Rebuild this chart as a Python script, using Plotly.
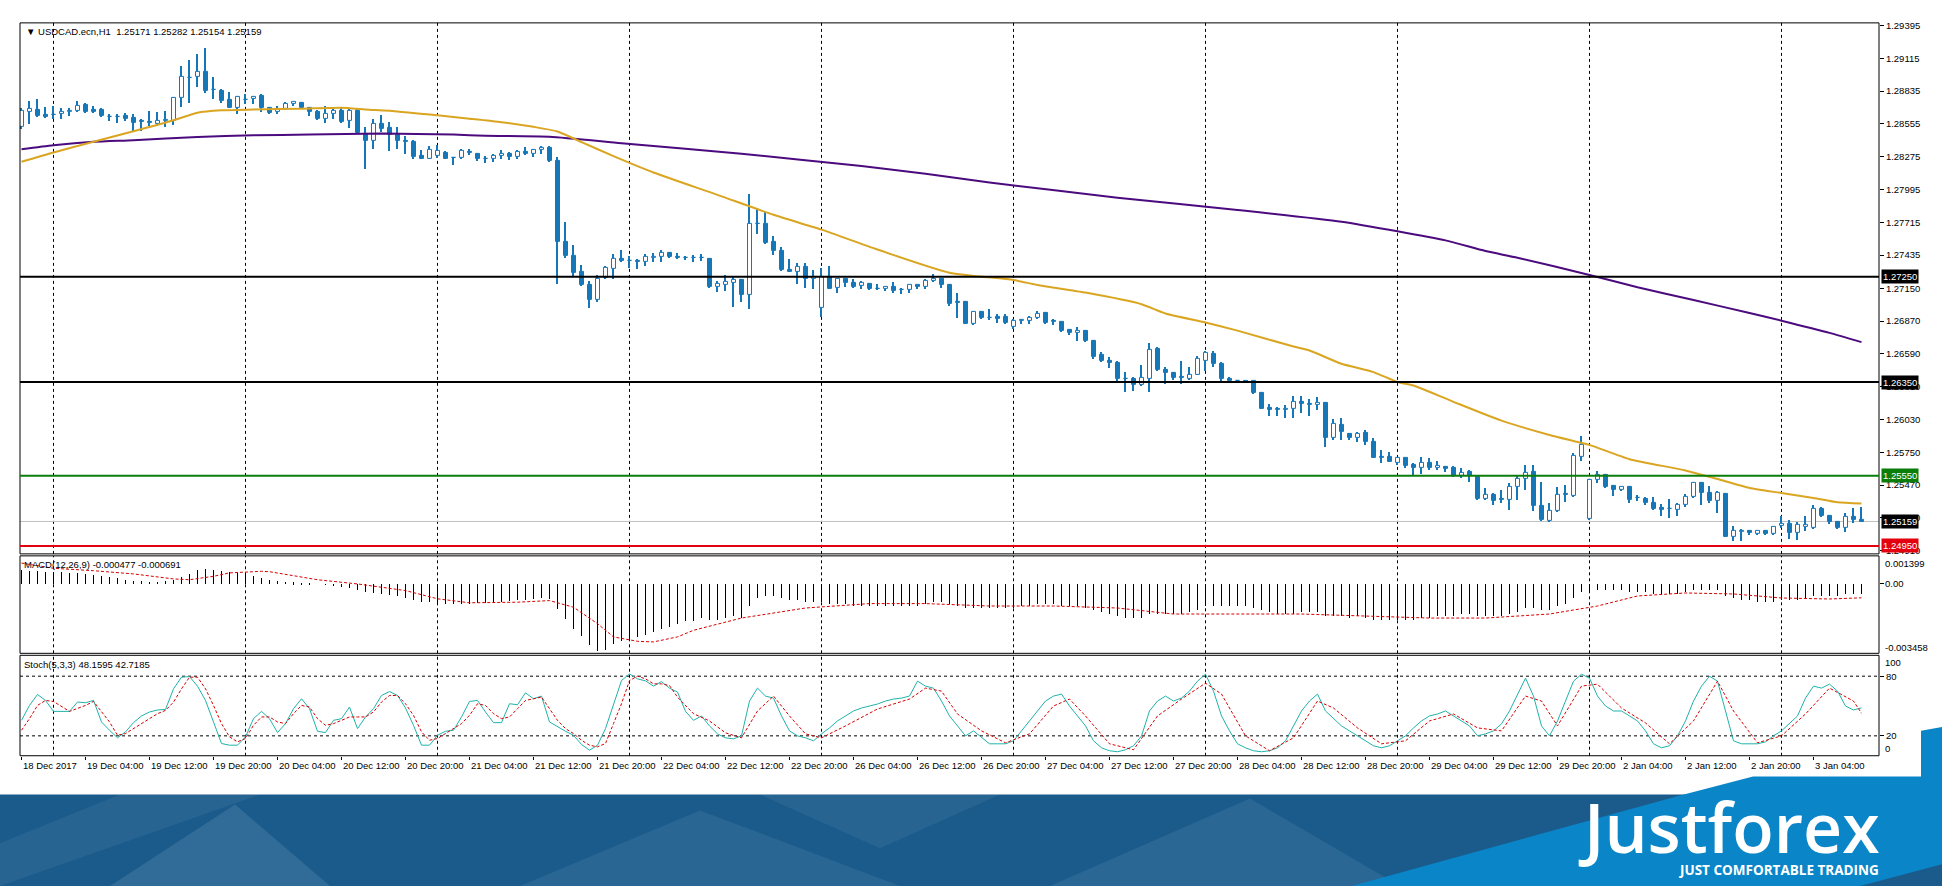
import plotly.graph_objects as go

W, H = 1942, 888

# ---------------- data ----------------
opens = [1.28529,1.28662,1.28679,1.28628,1.28628,1.28637,1.28654,1.28665,1.28719,1.28674,
1.28671,1.28617,1.28614,1.28623,1.28606,1.28580,1.28572,1.28557,1.28583,1.28577,
1.28775,1.28945,1.28954,1.28996,1.28849,1.28841,1.28764,1.28696,1.28758,1.28770,
1.28792,1.28688,1.28657,1.28685,1.28724,1.28733,1.28696,1.28657,1.28594,1.28640,
1.28665,1.28577,1.28665,1.28473,1.28407,1.28552,1.28521,1.28464,1.28410,1.28402,
1.28283,1.28260,1.28283,1.28311,1.28266,1.28266,1.28317,1.28303,1.28257,1.28260,
1.28285,1.28300,1.28270,1.28320,1.28300,1.28330,1.28350,1.28240,1.27544,1.27431,
1.27289,1.27176,1.27049,1.27241,1.27320,1.27405,1.27388,1.27383,1.27377,1.27414,
1.27417,1.27456,1.27417,1.27414,1.27408,1.27411,1.27405,1.27167,1.27184,1.27201,
1.27224,1.27091,1.27700,1.27703,1.27547,1.27473,1.27312,1.27292,1.27332,1.27235,
1.26986,1.27247,1.27156,1.27227,1.27196,1.27170,1.27190,1.27145,1.27142,1.27162,
1.27139,1.27134,1.27179,1.27162,1.27213,1.27227,1.27182,1.27032,1.27035,1.26851,
1.26950,1.26899,1.26908,1.26908,1.26823,1.26876,1.26874,1.26902,1.26944,1.26871,
1.26865,1.26792,1.26769,1.26789,1.26704,1.26585,1.26534,1.26514,1.26381,1.26378,
1.26322,1.26378,1.26630,1.26455,1.26429,1.26390,1.26378,1.26412,1.26534,1.26591,
1.26506,1.26381,1.26361,1.26358,1.26358,1.26259,1.26129,1.26118,1.26115,1.26118,
1.26180,1.26163,1.26152,1.26172,1.25869,1.25988,1.25911,1.25869,1.25917,1.25837,
1.25710,1.25707,1.25656,1.25699,1.25643,1.25615,1.25657,1.25615,1.25629,1.25615,
1.25550,1.25586,1.25544,1.25351,1.25388,1.25349,1.25340,1.25453,1.25521,1.25586,
1.25295,1.25162,1.25247,1.25391,1.25380,1.25714,1.25182,1.25516,1.25558,1.25459,
1.25431,1.25453,1.25363,1.25354,1.25317,1.25275,1.25264,1.25261,1.25298,1.25368,
1.25487,1.25402,1.25332,1.25394,1.25029,1.25074,1.25077,1.25057,1.25077,1.25057,
1.25119,1.25142,1.25063,1.25114,1.25105,1.25266,1.25210,1.25153,1.25105,1.25198,
1.25171]

highs = [1.28691,1.28756,1.28770,1.28699,1.28708,1.28691,1.28691,1.28756,1.28733,1.28708,
1.28691,1.28642,1.28642,1.28651,1.28642,1.28594,1.28665,1.28657,1.28665,1.28784,
1.29047,1.29101,1.29152,1.29203,1.28954,1.28855,1.28826,1.28798,1.28812,1.28798,
1.28812,1.28699,1.28708,1.28741,1.28744,1.28741,1.28699,1.28671,1.28713,1.28691,
1.28691,1.28691,1.28685,1.28529,1.28594,1.28628,1.28572,1.28529,1.28453,1.28416,
1.28331,1.28365,1.28373,1.28323,1.28272,1.28339,1.28339,1.28308,1.28283,1.28300,
1.28330,1.28320,1.28330,1.28360,1.28340,1.28370,1.28370,1.28270,1.27722,1.27524,
1.27354,1.27218,1.27269,1.27340,1.27445,1.27476,1.27425,1.27405,1.27445,1.27453,
1.27482,1.27459,1.27453,1.27425,1.27439,1.27445,1.27411,1.27218,1.27269,1.27247,
1.27235,1.27960,1.27841,1.27807,1.27595,1.27502,1.27405,1.27368,1.27368,1.27312,
1.27326,1.27340,1.27241,1.27235,1.27227,1.27218,1.27199,1.27190,1.27170,1.27204,
1.27156,1.27190,1.27184,1.27227,1.27275,1.27235,1.27192,1.27114,1.27043,1.26959,
1.26959,1.26973,1.26930,1.26930,1.26888,1.26893,1.26916,1.26959,1.26950,1.26888,
1.26868,1.26803,1.26817,1.26797,1.26709,1.26605,1.26562,1.26528,1.26435,1.26392,
1.26497,1.26684,1.26647,1.26477,1.26435,1.26528,1.26483,1.26576,1.26613,1.26613,
1.26520,1.26392,1.26370,1.26364,1.26364,1.26265,1.26166,1.26138,1.26152,1.26228,
1.26231,1.26208,1.26222,1.26180,1.26038,1.26047,1.25917,1.25925,1.25939,1.25869,
1.25770,1.25755,1.25713,1.25704,1.25663,1.25714,1.25700,1.25680,1.25635,1.25635,
1.25615,1.25601,1.25550,1.25445,1.25402,1.25431,1.25487,1.25558,1.25643,1.25643,
1.25501,1.25317,1.25453,1.25473,1.25742,1.25889,1.25521,1.25595,1.25567,1.25473,
1.25465,1.25465,1.25388,1.25368,1.25368,1.25312,1.25351,1.25317,1.25397,1.25501,
1.25496,1.25459,1.25417,1.25402,1.25119,1.25097,1.25091,1.25091,1.25091,1.25125,
1.25204,1.25170,1.25153,1.25204,1.25303,1.25283,1.25218,1.25162,1.25233,1.25275,
1.25282]

lows = [1.28515,1.28557,1.28614,1.28606,1.28594,1.28594,1.28623,1.28657,1.28648,1.28648,
1.28614,1.28577,1.28566,1.28577,1.28487,1.28495,1.28538,1.28538,1.28529,1.28549,
1.28699,1.28736,1.28869,1.28821,1.28770,1.28733,1.28691,1.28642,1.28727,1.28727,
1.28657,1.28642,1.28642,1.28671,1.28713,1.28685,1.28623,1.28586,1.28566,1.28600,
1.28566,1.28524,1.28473,1.28175,1.28345,1.28487,1.28323,1.28345,1.28303,1.28255,
1.28255,1.28255,1.28266,1.28255,1.28209,1.28260,1.28294,1.28243,1.28226,1.28230,
1.28260,1.28250,1.28260,1.28290,1.28270,1.28300,1.28230,1.27190,1.27411,1.27247,
1.27170,1.26986,1.27037,1.27227,1.27235,1.27377,1.27326,1.27320,1.27340,1.27377,
1.27377,1.27411,1.27405,1.27397,1.27377,1.27383,1.27156,1.27122,1.27128,1.26992,
1.27037,1.26972,1.27615,1.27530,1.27439,1.27298,1.27292,1.27190,1.27156,1.27150,
1.26907,1.27142,1.27114,1.27162,1.27156,1.27150,1.27139,1.27139,1.27128,1.27114,
1.27105,1.27114,1.27150,1.27142,1.27207,1.27156,1.27000,1.26902,1.26851,1.26837,
1.26888,1.26885,1.26859,1.26851,1.26803,1.26845,1.26851,1.26888,1.26851,1.26840,
1.26780,1.26755,1.26698,1.26690,1.26548,1.26520,1.26472,1.26364,1.26265,1.26273,
1.26313,1.26265,1.26443,1.26336,1.26370,1.26330,1.26370,1.26407,1.26449,1.26477,
1.26364,1.26350,1.26347,1.26347,1.26251,1.26118,1.26061,1.26061,1.26047,1.26047,
1.26089,1.26061,1.26109,1.25792,1.25860,1.25854,1.25854,1.25840,1.25812,1.25699,
1.25656,1.25665,1.25642,1.25614,1.25550,1.25567,1.25601,1.25601,1.25586,1.25538,
1.25530,1.25493,1.25346,1.25346,1.25303,1.25317,1.25261,1.25340,1.25425,1.25247,
1.25162,1.25153,1.25241,1.25326,1.25368,1.25680,1.25176,1.25487,1.25445,1.25374,
1.25417,1.25317,1.25332,1.25303,1.25255,1.25204,1.25190,1.25204,1.25283,1.25360,
1.25303,1.25317,1.25233,1.25025,1.24992,1.24992,1.25048,1.25046,1.25048,1.25048,
1.25105,1.25012,1.25000,1.25077,1.25097,1.25198,1.25142,1.25097,1.25068,1.25148,
1.25154]

closes = [1.28665,1.28685,1.28623,1.28611,1.28631,1.28657,1.28665,1.28713,1.28657,1.28659,
1.28620,1.28611,1.28611,1.28600,1.28566,1.28574,1.28563,1.28580,1.28586,1.28775,
1.28954,1.28951,1.29002,1.28841,1.28843,1.28756,1.28696,1.28784,1.28761,1.28784,
1.28691,1.28651,1.28685,1.28727,1.28739,1.28696,1.28657,1.28594,1.28637,1.28665,
1.28572,1.28665,1.28478,1.28407,1.28552,1.28515,1.28464,1.28407,1.28405,1.28274,
1.28260,1.28331,1.28328,1.28260,1.28263,1.28325,1.28306,1.28255,1.28260,1.28285,
1.28300,1.28270,1.28320,1.28300,1.28330,1.28350,1.28240,1.27544,1.27425,1.27284,
1.27176,1.27049,1.27235,1.27326,1.27405,1.27383,1.27383,1.27377,1.27417,1.27419,
1.27456,1.27417,1.27414,1.27408,1.27411,1.27408,1.27162,1.27190,1.27207,1.27224,
1.27091,1.27700,1.27703,1.27538,1.27468,1.27306,1.27295,1.27337,1.27235,1.27252,
1.27247,1.27150,1.27227,1.27193,1.27165,1.27196,1.27142,1.27142,1.27162,1.27128,
1.27134,1.27179,1.27162,1.27213,1.27235,1.27184,1.27018,1.27027,1.26851,1.26950,
1.26902,1.26896,1.26893,1.26854,1.26874,1.26882,1.26902,1.26936,1.26859,1.26865,
1.26789,1.26766,1.26789,1.26698,1.26568,1.26528,1.26511,1.26378,1.26375,1.26322,
1.26384,1.26625,1.26455,1.26426,1.26387,1.26384,1.26412,1.26548,1.26602,1.26506,
1.26378,1.26358,1.26356,1.26353,1.26256,1.26123,1.26109,1.26112,1.26118,1.26180,
1.26160,1.26157,1.26174,1.25869,1.25996,1.25925,1.25869,1.25911,1.25835,1.25704,
1.25704,1.25670,1.25699,1.25634,1.25615,1.25657,1.25615,1.25635,1.25612,1.25550,
1.25578,1.25550,1.25351,1.25388,1.25332,1.25340,1.25453,1.25521,1.25578,1.25289,
1.25170,1.25247,1.25388,1.25385,1.25719,1.25813,1.25516,1.25558,1.25453,1.25431,
1.25453,1.25340,1.25357,1.25317,1.25266,1.25255,1.25269,1.25298,1.25368,1.25487,
1.25402,1.25332,1.25402,1.25029,1.25077,1.25080,1.25063,1.25077,1.25057,1.25114,
1.25142,1.25063,1.25133,1.25131,1.25266,1.25204,1.25153,1.25105,1.25198,1.25176,
1.25159]

# moving averages (read at sample bars)
ma_fast_x = [0,4,9,14,19,22,25,29,35,40,43,47,52,56,60,64,67,70,74,79,87,94,100,107,116,
             124,127,133,140,143,148,152,159,161,165,169,172,174,179,185,191,194,196,201,
             208,212,216,220,224,227,230]
ma_fast_y = [1.28232,1.28311,1.28402,1.28492,1.28586,1.28651,1.28671,1.28679,1.28685,1.28693,
             1.28679,1.28662,1.28628,1.28600,1.28570,1.28530,1.28490,1.28400,1.28280,1.28140,
             1.27949,1.27779,1.27652,1.27482,1.27284,1.27222,1.27179,1.27114,1.27015,1.26936,
             1.26859,1.26789,1.26653,1.26619,1.26506,1.26435,1.26350,1.26320,1.26181,1.26020,
             1.25898,1.25847,1.25813,1.25691,1.25595,1.25521,1.25445,1.25402,1.25360,1.25323,
             1.25312]
ma_slow_x = [0,4,9,14,22,29,36,45,54,58,66,75,90,105,113,121,137,152,165,172,178,183,187,
             196,202,209,216,220,226,230]
ma_slow_y = [1.28339,1.28373,1.28402,1.28416,1.28444,1.28458,1.28464,1.28473,1.28464,1.28453,
             1.28445,1.28390,1.28300,1.28195,1.28130,1.28055,1.27925,1.27820,1.27720,1.27638,
             1.27560,1.27469,1.27412,1.27265,1.27160,1.27050,1.26940,1.26874,1.26770,1.26691]

macd_hist = [0.00071,0.00066,0.00063,0.00061,0.00061,0.00058,0.00056,0.00055,0.00050,0.00045,
0.00038,0.00033,0.00028,0.00021,0.00017,0.00013,0.00012,0.00012,0.00015,0.00021,
0.00033,0.00050,0.00068,0.00074,0.00071,0.00064,0.00058,0.00053,0.00050,0.00041,
0.00028,0.00018,0.00013,0.00010,0.00008,0.00005,0.00003,0.00000,-0.00003,-0.00008,
-0.00017,-0.00021,-0.00028,-0.00038,-0.00045,-0.00050,-0.00055,-0.00058,-0.00071,-0.00078,
-0.00088,-0.00091,-0.00094,-0.00099,-0.00099,-0.00099,-0.00099,-0.00094,-0.00094,-0.00091,
-0.00088,-0.00083,-0.00078,-0.00078,-0.00074,-0.00071,-0.00074,-0.00124,-0.00174,-0.00223,
-0.00259,-0.00306,-0.00335,-0.00330,-0.00297,-0.00286,-0.00276,-0.00264,-0.00253,-0.00240,
-0.00223,-0.00215,-0.00198,-0.00182,-0.00182,-0.00170,-0.00180,-0.00180,-0.00170,-0.00160,
-0.00170,-0.00110,-0.00070,-0.00060,-0.00060,-0.00070,-0.00080,-0.00080,-0.00090,-0.00090,
-0.00090,-0.00100,-0.00100,-0.00100,-0.00110,-0.00110,-0.00110,-0.00110,-0.00110,-0.00110,
-0.00110,-0.00110,-0.00110,-0.00100,-0.00090,-0.00090,-0.00100,-0.00110,-0.00120,-0.00120,
-0.00120,-0.00120,-0.00120,-0.00120,-0.00120,-0.00110,-0.00110,-0.00100,-0.00100,-0.00100,
-0.00110,-0.00110,-0.00110,-0.00120,-0.00130,-0.00140,-0.00150,-0.00160,-0.00170,-0.00170,
-0.00170,-0.00150,-0.00150,-0.00150,-0.00150,-0.00150,-0.00140,-0.00130,-0.00110,-0.00110,
-0.00110,-0.00110,-0.00110,-0.00110,-0.00120,-0.00130,-0.00140,-0.00150,-0.00150,-0.00150,
-0.00140,-0.00140,-0.00140,-0.00160,-0.00160,-0.00160,-0.00170,-0.00160,-0.00170,-0.00180,
-0.00180,-0.00180,-0.00180,-0.00180,-0.00180,-0.00170,-0.00170,-0.00160,-0.00160,-0.00160,
-0.00150,-0.00150,-0.00160,-0.00160,-0.00160,-0.00160,-0.00150,-0.00140,-0.00120,-0.00120,
-0.00130,-0.00130,-0.00110,-0.00100,-0.00070,-0.00040,-0.00040,-0.00030,-0.00030,-0.00030,
-0.00030,-0.00040,-0.00040,-0.00040,-0.00050,-0.00050,-0.00050,-0.00050,-0.00040,-0.00030,
-0.00030,-0.00030,-0.00030,-0.00060,-0.00070,-0.00080,-0.00080,-0.00090,-0.00090,-0.00090,
-0.00080,-0.00080,-0.00080,-0.00070,-0.00060,-0.00060,-0.00060,-0.00060,-0.00050,-0.00050,
-0.000477]

macd_sig_x = [0,4,9,14,19,21,24,26,30,31,34,37,42,48,52,56,62,66,69,72,74,77,79,82,84,90,98,
              106,113,121,129,137,144,152,160,168,176,183,191,197,202,208,214,220,226,230]
macd_sig_y = [0.00104,0.00078,0.00066,0.00050,0.00025,0.00021,0.00038,0.00055,0.00063,0.00061,
              0.00041,0.00021,0.00000,-0.00033,-0.00074,-0.00094,-0.00091,-0.00083,-0.00116,
              -0.00198,-0.00264,-0.00286,-0.00289,-0.00264,-0.00231,-0.00170,-0.00120,-0.00098,
              -0.00098,-0.00110,-0.00110,-0.00120,-0.00150,-0.00150,-0.00150,-0.00160,-0.00170,
              -0.00170,-0.00150,-0.00110,-0.00060,-0.00045,-0.00050,-0.00070,-0.00075,-0.000691]

stoch_main = [35.6,50.6,61.6,55.6,44.6,44.6,44.6,54.0,53.3,55.6,
34.0,25.6,18.0,24.0,33.3,40.0,44.0,46.0,46.6,67.3,
79.0,79.6,70.0,55.6,34.0,12.3,10.6,10.6,19.0,37.3,
44.6,37.3,23.3,32.3,47.3,57.3,47.3,24.6,23.3,35.6,
37.3,49.0,27.3,39.0,47.3,60.6,64.6,60.6,48.0,30.6,
10.6,10.6,20.6,24.6,25.6,39.0,54.6,55.6,44.0,33.3,
33.3,52.3,51.3,63.3,57.3,60.0,34.0,29.0,24.6,20.6,
11.3,5.6,10.6,27.3,52.3,75.6,82.3,77.3,75.3,70.0,
74.6,68.0,64.0,44.6,35.6,40,30,22,18,17,
20,55,68,60,58,40,25,20,18,15,
22,28,35,40,45,48,50,52,55,57,
58,60,75,70,68,55,40,30,20,25,
18,12,12,12,15,25,35,45,55,60,
62,50,40,30,15,8,5,4,6,10,
20,45,55,60,55,58,65,75,82,65,
40,25,12,8,5,4,5,8,15,30,
45,55,62,45,38,30,25,20,15,10,
8,10,15,20,28,35,40,42,45,40,
35,30,20,22,25,32,45,62,78,60,
30,20,35,55,75,82,78,60,50,45,
45,40,35,25,12,8,10,20,35,55,
70,80,75,45,15,12,12,12,14,20,
25,32,40,58,70,68,72,65,50,46,
48.16]

stoch_sig_x = [0,1,2,3,4,6,8,9,11,12,13,15,17,18,19,20,21,22,23,24,25,26,27,28,29,30,31,32,33,
               34,35,36,37,38,39,40,41,42,43,44,45,46,47,48,49,50,51,52,53,54,55,56,57,58,59,
               60,61,62,63,64,65,66,67,68,69,70,71,72,73,74,75,76,77,78,79,80,81,82,83,84,
               86,88,90,92,94,96,98,100,103,107,111,113,115,117,120,123,126,129,131,133,136,
               139,142,145,148,150,153,156,159,162,164,167,170,173,176,179,182,185,188,190,
               192,195,197,200,203,206,209,212,214,217,220,223,226,229,230]
stoch_sig_y = [25.6,37.3,50.6,55.6,54.6,44.6,50.6,54.6,34.0,20.6,22.3,32.3,42.3,45.6,53.9,67.3,
               79.0,79.0,67.3,50.6,32.3,19.0,14.0,17.3,30.6,39.0,39.0,34.0,32.3,42.3,50.6,49.0,
               37.3,30.6,32.3,35.6,39.0,39.0,39.0,44.0,54.0,60.6,60.6,52.3,40.6,24.0,15.6,17.3,
               22.3,27.3,32.3,40.6,52.3,50.6,42.3,37.3,39.0,47.3,55.6,57.3,59.0,47.3,35.6,27.3,
               22.3,15.6,10.6,9.0,12.3,32.3,52.3,75.6,80.0,77.3,72.3,72.3,70.6,58.9,50.6,42.3,
               35,23,18,45,60,40,22,18,30,47,57,68,65,42,25,13,22,50,57,40,12,
               6,40,57,73,62,20,5,18,55,48,28,12,15,35,42,28,25,60,55,
               30,70,72,48,33,12,35,75,45,13,20,42,68,55,42.72]

x_tick_idx = [0,8,16,24,32,40,48,56,64,72,80,88,96,104,112,120,128,136,144,152,160,168,176,
              184,192,200,208,216,224]
x_tick_text = ["18 Dec 2017","19 Dec 04:00","19 Dec 12:00","19 Dec 20:00","20 Dec 04:00",
               "20 Dec 12:00","20 Dec 20:00","21 Dec 04:00","21 Dec 12:00","21 Dec 20:00",
               "22 Dec 04:00","22 Dec 12:00","22 Dec 20:00","26 Dec 04:00","26 Dec 12:00",
               "26 Dec 20:00","27 Dec 04:00","27 Dec 12:00","27 Dec 20:00","28 Dec 04:00",
               "28 Dec 12:00","28 Dec 20:00","29 Dec 04:00","29 Dec 12:00","29 Dec 20:00",
               "2 Jan 04:00","2 Jan 12:00","2 Jan 20:00","3 Jan 04:00"]
day_sep_idx = [4,28,52,76,100,124,148,172,196,220]

price_ticks = [1.29395,1.29115,1.28835,1.28555,1.28275,1.27995,1.27715,1.27435,1.27150,
               1.26870,1.26590,1.26310,1.26030,1.25750,1.25470,1.25190,1.24910]
levels = [1.27250, 1.26350, 1.25550, 1.24950]
level_colors = ["#000000", "#000000", "#0b7d0b", "#e3000f"]
last_price = 1.25159

# ---------------- geometry ----------------
L, R = 20, 1879
MT, MB = 20, 554
AT, AB = 556, 654
ST, SB = 656, 757

def fx(p): return p / W
def fy(p): return 1 - p / H

BLUE = "#1677b8"
FONT = "Liberation Sans, Arial, sans-serif"
FS = 9.5

n = len(closes)
idx = list(range(n))

fig = go.Figure()

# wicks
fig.add_trace(go.Bar(x=idx, y=[h - l for h, l in zip(highs, lows)], base=lows, width=0.13,
                     marker=dict(color=BLUE, line=dict(width=0)), xaxis="x", yaxis="y"))
# bodies
bx_b, bb_b, bh_b, bx_s, bb_s, bh_s = [], [], [], [], [], []
for i, (o, c) in enumerate(zip(opens, closes)):
    h = max(abs(c - o), 0.000012)
    if c >= o:
        bx_b.append(i); bb_b.append(min(o, c)); bh_b.append(h)
    else:
        bx_s.append(i); bb_s.append(min(o, c)); bh_s.append(h)
fig.add_trace(go.Bar(x=bx_b, y=bh_b, base=bb_b, width=0.5,
                     marker=dict(color="white", line=dict(color=BLUE, width=1)), xaxis="x", yaxis="y"))
fig.add_trace(go.Bar(x=bx_s, y=bh_s, base=bb_s, width=0.5,
                     marker=dict(color=BLUE, line=dict(color=BLUE, width=1)), xaxis="x", yaxis="y"))
# MAs
fig.add_trace(go.Scatter(x=ma_slow_x, y=ma_slow_y, mode="lines",
                         line=dict(color="#4B0A7E", width=2, shape="spline", smoothing=0.6),
                         xaxis="x", yaxis="y"))
fig.add_trace(go.Scatter(x=ma_fast_x, y=ma_fast_y, mode="lines",
                         line=dict(color="#DAA520", width=2, shape="spline", smoothing=0.6),
                         xaxis="x", yaxis="y"))
# MACD
fig.add_trace(go.Bar(x=idx, y=macd_hist, width=0.12, marker=dict(color="black", line=dict(width=0)),
                     xaxis="x2", yaxis="y2"))
fig.add_trace(go.Scatter(x=macd_sig_x, y=macd_sig_y, mode="lines",
                         line=dict(color="#d40000", width=1, dash="3px,2px"), xaxis="x2", yaxis="y2"))
# Stochastic
fig.add_trace(go.Scatter(x=idx, y=stoch_main, mode="lines", line=dict(color="#20B2AA", width=1),
                         xaxis="x3", yaxis="y3"))
fig.add_trace(go.Scatter(x=stoch_sig_x, y=stoch_sig_y, mode="lines",
                         line=dict(color="#d40000", width=1, dash="3px,2px"), xaxis="x3", yaxis="y3"))

xr = [(L - 21.5) / 8, (R - 21.5) / 8]
xdom = [fx(L), fx(R)]
axfont = dict(family=FONT, size=FS, color="black")
common_x = dict(range=xr, domain=xdom, showgrid=False, zeroline=False, showline=False,
                showticklabels=False, fixedrange=True)

shapes = []
# panel frames
for t, b in [(MT, MB), (AT, AB), (ST, SB)]:
    shapes.append(dict(type="rect", xref="paper", yref="paper", x0=fx(L), x1=fx(R), y0=fy(b), y1=fy(t),
                       line=dict(color="black", width=1), layer="above"))
# day separators
for d in day_sep_idx:
    for t, b in [(MT, MB), (AT, AB), (ST, SB)]:
        shapes.append(dict(type="line", xref="x", yref="paper", x0=d, x1=d, y0=fy(b), y1=fy(t),
                           line=dict(color="black", width=1, dash="3px,3px"), layer="below"))
# last price line
shapes.append(dict(type="line", xref="paper", yref="y", x0=fx(L), x1=fx(R), y0=last_price, y1=last_price,
                   line=dict(color="#c0c0c0", width=1), layer="below"))
# levels
for v, c in zip(levels, level_colors):
    shapes.append(dict(type="line", xref="paper", yref="y", x0=fx(L), x1=fx(R), y0=v, y1=v,
                       line=dict(color=c, width=2), layer="above"))
# stochastic levels
for v in (80, 20):
    shapes.append(dict(type="line", xref="paper", yref="y3", x0=fx(L), x1=fx(R), y0=v, y1=v,
                       line=dict(color="black", width=1, dash="3px,3px"), layer="below"))

# ---- banner ----
def poly(pts):
    return "M " + " L ".join(f"{fx(x):.5f},{fy(y):.5f}" for x, y in pts) + " Z"

DARK = "#1a5b8c"
LIGHT = "#0a86c8"
shapes.append(dict(type="path", xref="paper", yref="paper", path=poly([(0, 796), (W, 796), (W, H), (0, H)]),
                   fillcolor=DARK, line=dict(width=0), layer="above"))
for pts, op in [([(110, H), (235, 806), (330, H)], 0.10),
                ([(0, 845), (120, 796), (260, 796), (0, H)], 0.06),
                ([(520, H), (700, 812), (900, H)], 0.07),
                ([(760, 796), (1000, 796), (880, 850)], 0.06),
                ([(1050, H), (1250, 800), (1400, H)], 0.08)]:
    shapes.append(dict(type="path", xref="paper", yref="paper", path=poly(pts),
                       fillcolor=f"rgba(255,255,255,{op})", line=dict(width=0), layer="above"))
shapes.append(dict(type="path", xref="paper", yref="paper",
                   path=poly([(W, 728), (1921, 732), (1921, 778), (1753, 778), (1680, 797), (1352, H), (W, H)]),
                   fillcolor=LIGHT, line=dict(width=0), layer="above"))
shapes.append(dict(type="path", xref="paper", yref="paper", path=poly([(1860, H), (W, 866), (W, H)]),
                   fillcolor=DARK, line=dict(width=0), layer="above"))

annotations = []
def ann(text, x, y, xanchor="left", yanchor="middle", size=FS, color="black", xref="paper", yref="paper", **kw):
    d = dict(text=text, x=x, y=y, xref=xref, yref=yref, xanchor=xanchor, yanchor=yanchor, showarrow=False,
             font=dict(family=kw.pop("family", FONT), size=size, color=color, weight=kw.pop("weight", "normal")))
    d.update(kw)
    annotations.append(d)

ann("\u25BC USDCAD.ecn,H1\u00a0\u00a01.25171 1.25282 1.25154 1.25159", fx(24), fy(29))
ann("MACD(12,26,9) -0.000477 -0.000691", fx(22), fy(565))
ann("Stoch(5,3,3) 48.1595 42.7185", fx(22), fy(665))

# MACD / stoch side labels
ann("0.001399", fx(1883), fy(564))
ann("0.00", fx(1883), 0, yref="y2")
ann("-0.003458", fx(1883), fy(648))
ann("100", fx(1883), fy(663))
ann("0", fx(1883), fy(750))

# level boxes
box_vals = [1.27250, 1.26350, 1.25550, last_price, 1.24950]
box_cols = ["#000000", "#000000", "#0b7d0b", "#000000", "#e3000f"]
for v, c in zip(box_vals, box_cols):
    ann(f"{v:.5f}", fx(1881), v, yref="y", color="white", bgcolor=c, borderpad=1)

# x labels
for i, t in zip(x_tick_idx, x_tick_text):
    ann(t, i, fy(767), xref="x3", xshift=-1)

# logo
ann("Justforex", fx(1882), fy(828), xanchor="right", size=68, color="white",
    family="Open Sans, Noto Sans, sans-serif", weight=600)
ann("JUST COMFORTABLE TRADING", fx(1881), fy(872), xanchor="right", size=13.5, color="white",
    family="Open Sans, Noto Sans, sans-serif", weight=700)

fig.update_layout(
    width=W, height=H, margin=dict(l=0, r=0, t=0, b=0), paper_bgcolor="white", plot_bgcolor="white",
    showlegend=False, barmode="overlay", bargap=0,
    xaxis=dict(**common_x, anchor="y"),
    xaxis2=dict(**common_x, anchor="y2", matches="x"),
    xaxis3=dict(**common_x, anchor="y3", matches="x", ticks="outside", ticklen=3, tickcolor="black",
                tickvals=x_tick_idx),
    yaxis=dict(domain=[fy(MB), fy(MT)], range=[1.24882, 1.29418], side="right", anchor="x",
               tickvals=price_ticks, ticktext=[f"{v:.5f}" for v in price_ticks], ticks="outside",
               ticklen=4, tickcolor="black", tickfont=axfont, showgrid=False, zeroline=False,
               showline=False, fixedrange=True),
    yaxis2=dict(domain=[fy(AB), fy(AT)], range=[-0.003458, 0.001399], side="right", anchor="x2",
                tickvals=[0], ticktext=[""], ticks="outside", ticklen=4, tickcolor="black",
                showgrid=False, zeroline=False, showline=False, fixedrange=True),
    yaxis3=dict(domain=[fy(SB), fy(ST)], range=[0, 101], side="right", anchor="x3",
                tickvals=[80, 20], ticktext=["80", "20"], ticks="outside", ticklen=4, tickcolor="black",
                tickfont=axfont, showgrid=False, zeroline=False, showline=False, fixedrange=True),
    shapes=shapes, annotations=annotations,
)

fig.write_html("out.html", post_script="document.body.style.margin='0';")
